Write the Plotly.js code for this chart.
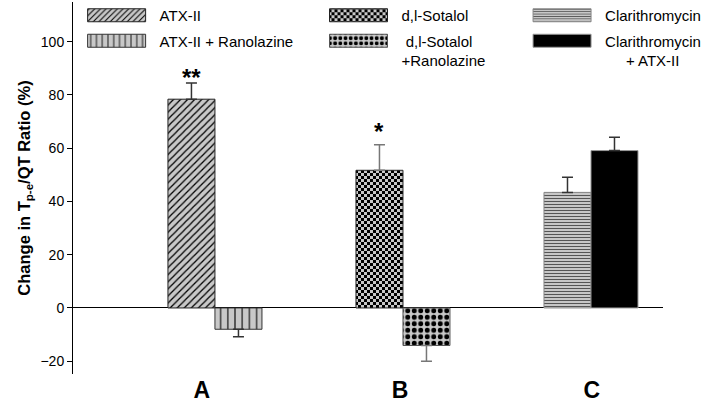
<!DOCTYPE html>
<html><head><meta charset="utf-8">
<script src="https://cdn.plot.ly/plotly-3.0.1.min.js"></script>
<style>body{margin:0;background:#fff}</style>
</head><body>
<div id="chart" style="width:709px;height:402px"></div>
<script>
// ---- data ----
const groupLabels = ['A', 'B', 'C'];
const seriesNames = ['ATX-II', 'ATX-II + Ranolazine', 'd,l-Sotalol', '&nbsp;d,l-Sotalol<br>+Ranolazine', 'Clarithromycin', 'Clarithromycin<br>&nbsp;&nbsp;&nbsp;&nbsp;&nbsp;+ ATX-II'];
const seriesGroup = [0, 0, 1, 1, 2, 2];
const seriesValues = [78.4, -8.0, 51.7, -14.1, 43.4, 59.1];
const seriesErrors = [6.1, 2.8, 9.6, 5.9, 5.7, 5.0];
const significance = ['**', '', '*', '', '', ''];

// ---- styles ----
const FONT = 'Arial, "Liberation Sans", sans-serif';
const patterns = [
  {shape: '/', bgcolor: '#c8c8c8', fgcolor: '#000', size: 5, solidity: 0.25},
  {shape: '|', bgcolor: '#c8c8c8', fgcolor: '#000', size: 7.2, solidity: 0.15},
  {shape: '+', bgcolor: '#c8c8c8', fgcolor: '#000', size: 6, solidity: 0.5},
  {shape: '.', bgcolor: '#c8c8c8', fgcolor: '#000', size: 6.5, solidity: 0.45},
  {shape: '-', bgcolor: '#d4d4d4', fgcolor: '#555', size: 3, solidity: 0.4},
  null
];
const customChecker = [false, false, true, false, false, false];
const lineColors = ['#222', '#333', '#222', '#555', '#888', '#999'];
const errColors = ['#333', '#333', '#777', '#777', '#333', '#333'];
const BAR_W = 0.25;

const traces = seriesNames.map((name, i) => {
  const v = seriesValues[i];
  const marker = {color: patterns[i] ? patterns[i].bgcolor : '#000', line: {color: lineColors[i], width: 1}};
  if (patterns[i]) marker.pattern = Object.assign({fillmode: 'replace'}, patterns[i]);
  return {
    type: 'bar', name: name,
    x: [seriesGroup[i]], y: [v],
    width: BAR_W, offset: (i % 2 === 0) ? -BAR_W : 0,
    marker: marker,
    error_y: {type: 'data', symmetric: false,
      array: [v >= 0 ? seriesErrors[i] : 0], arrayminus: [v < 0 ? seriesErrors[i] : 0],
      color: errColors[i], thickness: 1.5, width: 5.5},
    legend: seriesGroup[i] === 0 ? 'legend' : 'legend' + (seriesGroup[i] + 1),
    legendgroup: 'g' + i, showlegend: true, hoverinfo: 'skip'
  };
});

const annotations = [];
significance.forEach((s, i) => {
  if (!s) return;
  annotations.push({x: seriesGroup[i] + ((i % 2 === 0) ? -BAR_W / 2 : BAR_W / 2),
    y: seriesValues[i] + seriesErrors[i], text: '<b>' + s + '</b>', showarrow: false,
    yanchor: 'bottom', yshift: s.length > 1 ? -10 : -2, font: {family: FONT, size: 24, color: '#000'}});
});

function legendCfg(x) {
  return {x: x, xanchor: 'left', y: 1.0, yanchor: 'top', orientation: 'v',
    font: {family: FONT, size: 15, color: '#000'}, bgcolor: 'rgba(0,0,0,0)',
    traceorder: 'grouped', tracegroupgap: 3, valign: 'top', itemwidth: 30};
}

const layout = {
  width: 709, height: 402,
  margin: {l: 73, r: 46, t: 2, b: 28},
  paper_bgcolor: '#fff', plot_bgcolor: '#fff',
  font: {family: FONT, color: '#000'},
  barmode: 'overlay',
  xaxis: {range: [-0.755, 2.383], tickvals: [-0.07, 0.985, 2.005], ticktext: groupLabels,
    showline: false, showgrid: false, zeroline: false, ticks: '',
    tickfont: {family: FONT, size: 23, color: '#000', weight: 'bold'}},
  yaxis: {range: [-24.8, 114.9], tickvals: [-20, 0, 20, 40, 60, 80, 100],
    showline: true, linecolor: '#000', linewidth: 1, ticks: 'outside', ticklen: 5, tickcolor: '#000',
    showgrid: false, zeroline: true, zerolinecolor: '#000', zerolinewidth: 1,
    tickfont: {family: FONT, size: 14, color: '#000'},
    title: {text: '<b>Change in T<sub>p-e</sub>/QT Ratio (%)</b>', font: {family: FONT, size: 16.5, color: '#000'}}},
  legend: legendCfg(0.079),
  legend2: legendCfg(0.489),
  legend3: legendCfg(0.834),
  annotations: annotations,
  showlegend: true
};

const NS = 'http://www.w3.org/2000/svg';
function addChecker(gd) {
  const svg = gd.querySelector('svg.main-svg');
  if (!svg || svg.querySelector('#checker')) return;
  let defs = svg.querySelector('defs');
  if (!defs) { defs = document.createElementNS(NS, 'defs'); svg.insertBefore(defs, svg.firstChild); }
  const p = document.createElementNS(NS, 'pattern');
  p.setAttribute('id', 'checker'); p.setAttribute('patternUnits', 'userSpaceOnUse');
  p.setAttribute('width', '6'); p.setAttribute('height', '6');
  const r0 = document.createElementNS(NS, 'rect');
  r0.setAttribute('width', '6'); r0.setAttribute('height', '6'); r0.setAttribute('fill', '#c8c8c8');
  p.appendChild(r0);
  [[0, 0], [3, 3]].forEach(([x, y]) => {
    const r = document.createElementNS(NS, 'rect');
    r.setAttribute('x', x); r.setAttribute('y', y); r.setAttribute('width', '3'); r.setAttribute('height', '3'); r.setAttribute('fill', '#000');
    p.appendChild(r);
  });
  defs.appendChild(p);
}

// swatch: 58 x 13, right edge 14 px before the label (label starts 20 px right of the default symbol centre)
const SWATCH_DX = -23;
const LEGEND_LIFT = 3;
function fixUp(gd) {
  addChecker(gd);
  gd.querySelectorAll('.barlayer .trace').forEach((t, i) => {
    if (customChecker[i]) t.querySelectorAll('path').forEach(p => { p.style.fill = 'url(#checker)'; });
  });
  ['legend', 'legend2', 'legend3'].forEach((lg, li) => {
    gd.querySelectorAll('g.' + lg + ' g.traces').forEach((tr, k) => {
      tr.querySelectorAll('.legendpoints path').forEach(path => {
        if (path.dataset.base === undefined) path.dataset.base = path.getAttribute('transform') || '';
        path.setAttribute('d', 'M-29,-6.5H29V6.5H-29Z');
        path.setAttribute('transform', path.dataset.base + ' translate(' + SWATCH_DX + ',0)');
        if (customChecker[li * 2 + k]) path.style.fill = 'url(#checker)';
      });
    });
    gd.querySelectorAll('g.' + lg + ' g.scrollbox').forEach(sb => sb.removeAttribute('clip-path'));
    gd.querySelectorAll('.infolayer > g.' + lg).forEach(g => {
      const cur = g.getAttribute('transform') || '';
      if (g.dataset.shifted !== cur) {
        const m = cur.match(/translate\(\s*([-\d.e]+)[ ,]+([-\d.e]+)\s*\)/);
        if (m) {
          const nt = 'translate(' + m[1] + ',' + (parseFloat(m[2]) - LEGEND_LIFT) + ')';
          g.setAttribute('transform', nt);
          g.dataset.shifted = nt;
        }
      }
    });
  });
}

const gdEl = document.getElementById('chart');
Plotly.newPlot(gdEl, traces, layout, {displayModeBar: false, staticPlot: true}).then(gd => {
  fixUp(gd);
  gd.on('plotly_afterplot', () => fixUp(gd));
  let n = 0;
  const iv = setInterval(() => { fixUp(gd); if (++n > 40) clearInterval(iv); }, 25);
});
</script>
</body></html>
